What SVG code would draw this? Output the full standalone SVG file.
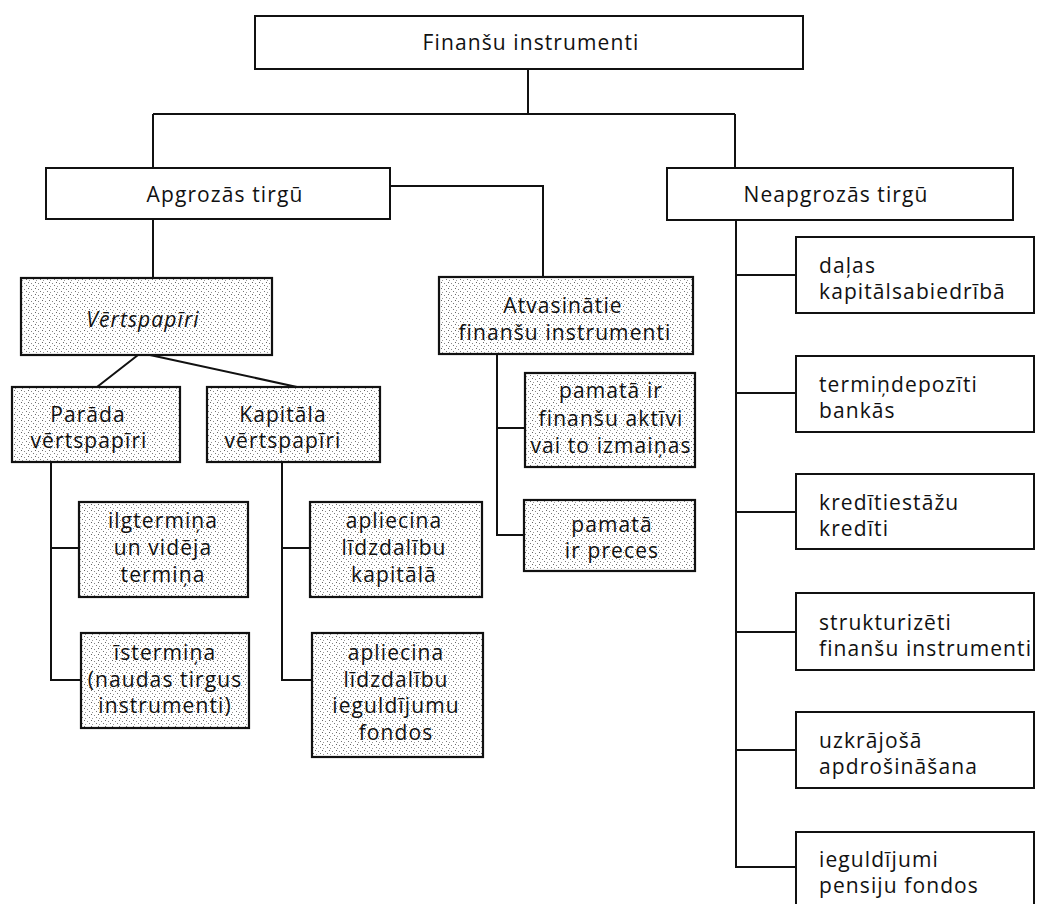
<svg xmlns="http://www.w3.org/2000/svg" width="1038" height="904" viewBox="0 0 1038 904">
  <defs>
    <!-- stippled grey screen used for the shaded boxes -->
    <pattern id="stipple" width="7" height="6" patternUnits="userSpaceOnUse">
      <rect x="0" y="0" width="1" height="1" fill="#666"/>
      <rect x="3" y="1" width="1" height="1" fill="#888"/>
      <rect x="5" y="3" width="1" height="1" fill="#777"/>
      <rect x="1" y="4" width="1" height="1" fill="#999"/>
    </pattern>
  </defs>
  <style>
    .box { fill: #fff; stroke: #111; stroke-width: 2; }
    .shade { fill: url(#stipple); stroke: #111; stroke-width: 2.2; }
    .lbl { font-family: "Open Sans", "Noto Sans", "DejaVu Sans", sans-serif; font-size: 21px; letter-spacing: 1.1px; fill: #111; }
    .c { text-anchor: middle; }
    .wire { fill: none; stroke: #111; stroke-width: 2; }
  </style>
  <rect width="1038" height="904" fill="#fff"/>

  <!-- connectors -->
  <g id="connectors" class="wire">
    <path d="M528 69 V114 M153 114 H735 M153 114 V168 M735 114 V168"/>
    <path d="M390 186 H543 V277"/>
    <path d="M153 219 V278"/>
    <path d="M138 355 L97 387 M150 355 L297 387"/>
    <path d="M51 462 V680 H81 M51 548 H79"/>
    <path d="M282 462 V680 H312 M282 548 H310"/>
    <path d="M497 354 V535 H524 M497 428 H525"/>
    <path d="M736 220 V867 H796 M736 275 H796 M736 393 H796 M736 512 H796 M736 632 H796 M736 750 H796"/>
  </g>

  <g id="root">
    <rect class="box" x="255" y="16" width="548" height="53"/>
    <text class="lbl c" x="531" y="50">Finanšu instrumenti</text>
  </g>

  <g id="apgrozas">
    <rect class="box" x="46" y="168" width="344" height="51"/>
    <text class="lbl c" x="225" y="202">Apgrozās tirgū</text>
  </g>

  <g id="neapgrozas">
    <rect class="box" x="667" y="168" width="346" height="52"/>
    <text class="lbl c" x="836" y="202">Neapgrozās tirgū</text>
  </g>

  <g id="vertspapiri">
    <rect class="shade" x="21" y="278" width="251" height="77"/>
    <text class="lbl c" x="143" y="327" font-style="italic">Vērtspapīri</text>
  </g>

  <g id="atvasinatie">
    <rect class="shade" x="439" y="277" width="254" height="77"/>
    <text class="lbl c" x="563" y="313">Atvasinātie</text>
    <text class="lbl c" x="565" y="340">finanšu instrumenti</text>
  </g>

  <g id="parada">
    <rect class="shade" x="12" y="387" width="168" height="75"/>
    <text class="lbl c" x="88" y="422">Parāda</text>
    <text class="lbl c" x="89" y="448">vērtspapīri</text>
  </g>

  <g id="kapitala">
    <rect class="shade" x="207" y="387" width="173" height="75"/>
    <text class="lbl c" x="283" y="422">Kapitāla</text>
    <text class="lbl c" x="283" y="448">vērtspapīri</text>
  </g>

  <g id="ilgtermina">
    <rect class="shade" x="79" y="502" width="169" height="95"/>
    <text class="lbl c" x="163" y="528">ilgtermiņa</text>
    <text class="lbl c" x="163" y="555">un vidēja</text>
    <text class="lbl c" x="163" y="582">termiņa</text>
  </g>

  <g id="istermina">
    <rect class="shade" x="81" y="633" width="168" height="95"/>
    <text class="lbl c" x="165" y="660">īstermiņa</text>
    <text class="lbl c" x="165" y="687">(naudas tirgus</text>
    <text class="lbl c" x="165" y="713">instrumenti)</text>
  </g>

  <g id="kapitala-lidzdaliba">
    <rect class="shade" x="310" y="502" width="172" height="95"/>
    <text class="lbl c" x="394" y="528">apliecina</text>
    <text class="lbl c" x="394" y="555">līdzdalību</text>
    <text class="lbl c" x="394" y="582">kapitālā</text>
  </g>

  <g id="fondu-lidzdaliba">
    <rect class="shade" x="312" y="633" width="171" height="124"/>
    <text class="lbl c" x="396" y="660">apliecina</text>
    <text class="lbl c" x="396" y="687">līdzdalību</text>
    <text class="lbl c" x="396" y="713">ieguldījumu</text>
    <text class="lbl c" x="396" y="740">fondos</text>
  </g>

  <g id="finansu-aktivi">
    <rect class="shade" x="525" y="373" width="170" height="94"/>
    <text class="lbl c" x="611" y="398">pamatā ir</text>
    <text class="lbl c" x="611" y="426">finanšu aktīvi</text>
    <text class="lbl c" x="611" y="453">vai to izmaiņas</text>
  </g>

  <g id="preces">
    <rect class="shade" x="524" y="500" width="171" height="71"/>
    <text class="lbl c" x="612" y="532">pamatā</text>
    <text class="lbl c" x="612" y="558">ir preces</text>
  </g>

  <g id="dalas">
    <rect class="box" x="796" y="237" width="238" height="76"/>
    <text class="lbl" x="819" y="273">daļas</text>
    <text class="lbl" x="819" y="299">kapitālsabiedrībā</text>
  </g>

  <g id="termindepoziti">
    <rect class="box" x="796" y="356" width="238" height="76"/>
    <text class="lbl" x="819" y="392">termiņdepozīti</text>
    <text class="lbl" x="819" y="418">bankās</text>
  </g>

  <g id="kreditiestazu">
    <rect class="box" x="796" y="474" width="238" height="75"/>
    <text class="lbl" x="819" y="510">kredītiestāžu</text>
    <text class="lbl" x="819" y="536">kredīti</text>
  </g>

  <g id="strukturizeti">
    <rect class="box" x="796" y="593" width="238" height="77"/>
    <text class="lbl" x="819" y="630">strukturizēti</text>
    <text class="lbl" x="819" y="656">finanšu instrumenti</text>
  </g>

  <g id="uzkrajosa">
    <rect class="box" x="796" y="712" width="238" height="76"/>
    <text class="lbl" x="819" y="748">uzkrājošā</text>
    <text class="lbl" x="819" y="774">apdrošināšana</text>
  </g>

  <g id="pensiju-fondi">
    <rect class="box" x="796" y="832" width="238" height="80"/>
    <text class="lbl" x="819" y="867">ieguldījumi</text>
    <text class="lbl" x="819" y="893">pensiju fondos</text>
  </g>
</svg>
